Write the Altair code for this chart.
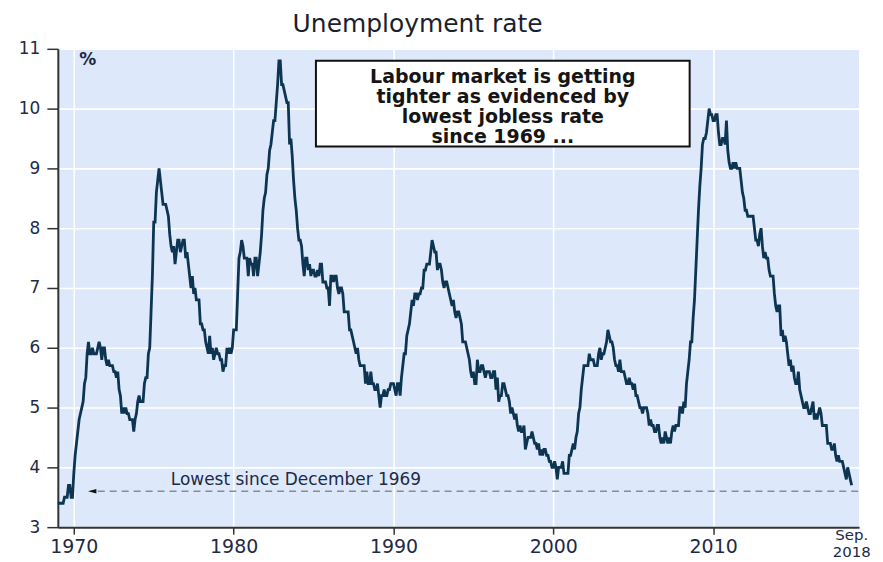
import altair as alt
import pandas as pd

# Monthly unemployment rate (%), Jan 1969 - Sep 2018
u_1969_1979 = [
    3.4, 3.4, 3.4, 3.4, 3.4, 3.5, 3.5, 3.5, 3.7, 3.7, 3.5, 3.5,
    3.9, 4.2, 4.4, 4.6, 4.8, 4.9, 5.0, 5.1, 5.4, 5.5, 5.9, 6.1,
    5.9, 5.9, 6.0, 5.9, 5.9, 5.9, 6.0, 6.1, 6.0, 5.8, 6.0, 6.0,
    5.8, 5.7, 5.8, 5.7, 5.7, 5.7, 5.6, 5.6, 5.5, 5.6, 5.3, 5.2,
    4.9, 5.0, 4.9, 5.0, 4.9, 4.9, 4.8, 4.8, 4.8, 4.6, 4.8, 4.9,
    5.1, 5.2, 5.1, 5.1, 5.1, 5.4, 5.5, 5.5, 5.9, 6.0, 6.6, 7.2,
    8.1, 8.1, 8.6, 8.8, 9.0, 8.8, 8.6, 8.4, 8.4, 8.4, 8.3, 8.2,
    7.9, 7.7, 7.6, 7.7, 7.4, 7.6, 7.8, 7.8, 7.6, 7.7, 7.8, 7.8,
    7.5, 7.6, 7.4, 7.2, 7.0, 7.2, 6.9, 7.0, 6.8, 6.8, 6.8, 6.4,
    6.4, 6.3, 6.3, 6.1, 6.0, 5.9, 6.2, 5.9, 6.0, 5.8, 5.9, 6.0,
    5.9, 5.9, 5.8, 5.8, 5.6, 5.7, 5.7, 6.0, 5.9, 6.0, 5.9, 6.0,
]
u_1980s = [
    6.3, 6.3, 6.3, 6.9, 7.5, 7.6, 7.8, 7.7, 7.5, 7.5, 7.5, 7.2,
    7.5, 7.4, 7.4, 7.2, 7.5, 7.5, 7.2, 7.4, 7.6, 7.9, 8.3, 8.5,
    8.6, 8.9, 9.0, 9.3, 9.4, 9.6, 9.8, 9.8, 10.1, 10.4, 10.8, 10.8,
    10.4, 10.4, 10.3, 10.2, 10.1, 10.1, 9.4, 9.5, 9.2, 8.8, 8.5, 8.3,
    8.0, 7.8, 7.8, 7.7, 7.4, 7.2, 7.5, 7.5, 7.3, 7.4, 7.2, 7.3,
    7.3, 7.2, 7.2, 7.3, 7.2, 7.4, 7.4, 7.1, 7.1, 7.1, 7.0, 7.0,
    6.7, 7.2, 7.2, 7.1, 7.2, 7.2, 7.0, 6.9, 7.0, 7.0, 6.9, 6.6,
    6.6, 6.6, 6.6, 6.3, 6.3, 6.2, 6.1, 6.0, 5.9, 6.0, 5.8, 5.7,
    5.7, 5.7, 5.7, 5.4, 5.6, 5.4, 5.4, 5.6, 5.4, 5.4, 5.3, 5.3,
    5.4, 5.2, 5.0, 5.2, 5.2, 5.3, 5.2, 5.2, 5.3, 5.3, 5.4, 5.4,
]
u_1990s = [
    5.4, 5.3, 5.2, 5.4, 5.4, 5.2, 5.5, 5.7, 5.9, 5.9, 6.2, 6.3,
    6.4, 6.6, 6.8, 6.7, 6.9, 6.9, 6.8, 6.9, 6.9, 7.0, 7.0, 7.3,
    7.3, 7.4, 7.4, 7.4, 7.6, 7.8, 7.7, 7.6, 7.6, 7.3, 7.4, 7.4,
    7.3, 7.1, 7.0, 7.1, 7.1, 7.0, 6.9, 6.8, 6.7, 6.8, 6.6, 6.5,
    6.6, 6.6, 6.5, 6.4, 6.1, 6.1, 6.1, 6.0, 5.9, 5.8, 5.6, 5.5,
    5.6, 5.4, 5.4, 5.8, 5.6, 5.6, 5.7, 5.7, 5.6, 5.5, 5.6, 5.6,
    5.6, 5.5, 5.5, 5.6, 5.6, 5.3, 5.5, 5.1, 5.2, 5.2, 5.4, 5.4,
    5.3, 5.2, 5.2, 5.1, 4.9, 5.0, 4.9, 4.8, 4.9, 4.7, 4.6, 4.7,
    4.6, 4.6, 4.7, 4.3, 4.4, 4.5, 4.5, 4.5, 4.6, 4.5, 4.4, 4.4,
    4.3, 4.4, 4.2, 4.3, 4.2, 4.3, 4.3, 4.2, 4.2, 4.1, 4.1, 4.0,
]
u_2000s = [
    4.0, 4.1, 4.0, 3.8, 4.0, 4.0, 4.0, 4.1, 3.9, 3.9, 3.9, 3.9,
    4.2, 4.2, 4.3, 4.4, 4.3, 4.5, 4.6, 4.9, 5.0, 5.3, 5.5, 5.7,
    5.7, 5.7, 5.7, 5.9, 5.8, 5.8, 5.8, 5.7, 5.7, 5.7, 5.9, 6.0,
    5.8, 5.9, 5.9, 6.0, 6.1, 6.3, 6.2, 6.1, 6.1, 6.0, 5.8, 5.7,
    5.7, 5.6, 5.8, 5.6, 5.6, 5.6, 5.5, 5.4, 5.4, 5.5, 5.4, 5.4,
    5.3, 5.4, 5.2, 5.2, 5.1, 5.0, 5.0, 4.9, 5.0, 5.0, 5.0, 4.9,
    4.7, 4.8, 4.7, 4.7, 4.6, 4.6, 4.7, 4.7, 4.5, 4.4, 4.5, 4.4,
    4.6, 4.5, 4.4, 4.5, 4.4, 4.6, 4.7, 4.6, 4.7, 4.7, 4.7, 5.0,
    5.0, 4.9, 5.1, 5.0, 5.4, 5.6, 5.8, 6.1, 6.1, 6.5, 6.8, 7.3,
    7.8, 8.3, 8.7, 9.0, 9.4, 9.5, 9.5, 9.6, 9.8, 10.0, 9.9, 9.9,
]
u_2010s = [
    9.8, 9.8, 9.9, 9.9, 9.6, 9.4, 9.4, 9.5, 9.5, 9.4, 9.8, 9.3,
    9.1, 9.0, 9.0, 9.1, 9.0, 9.1, 9.0, 9.0, 9.0, 8.8, 8.6, 8.5,
    8.3, 8.3, 8.2, 8.2, 8.2, 8.2, 8.2, 8.0, 7.8, 7.8, 7.7, 7.9,
    8.0, 7.7, 7.5, 7.6, 7.5, 7.5, 7.3, 7.2, 7.2, 7.2, 6.9, 6.7,
    6.6, 6.7, 6.7, 6.2, 6.3, 6.1, 6.2, 6.1, 5.9, 5.7, 5.8, 5.6,
    5.7, 5.5, 5.4, 5.4, 5.6, 5.3, 5.2, 5.1, 5.0, 5.0, 5.1, 5.0,
    4.9, 4.9, 5.0, 5.1, 4.8, 4.9, 4.8, 4.9, 5.0, 4.9, 4.7, 4.7,
    4.7, 4.7, 4.4, 4.4, 4.4, 4.3, 4.3, 4.4, 4.2, 4.1, 4.2, 4.1,
    4.1, 4.1, 4.0, 3.9, 3.8, 4.0, 3.9, 3.8, 3.7,
]

start_year = 1969
decade_ticks = [1970, 1980, 1990, 2000, 2010]
y_ticks = [3, 4, 5, 6, 7, 8, 9, 10, 11]
low_level = 3.6
low_label = "Lowest since December 1969"
box_lines = ["Labour market is getting", "tighter as evidenced by",
             "lowest jobless rate", "since 1969 ..."]
end_label = ["Sep.", "2018"]

rates = u_1969_1979 + u_1980s + u_1990s + u_2000s + u_2010s
times = [start_year + i / 12 for i in range(len(rates))]
df = pd.DataFrame({"t": times, "rate": rates})

FONT = "DejaVu Sans"
LABEL_COLOR = "#1e2a46"
X_DOMAIN = [1969.0, 2019.13]

x_scale = alt.Scale(domain=X_DOMAIN, nice=False, zero=False)
y_scale = alt.Scale(domain=[3, 11], nice=False, zero=False)

line = alt.Chart(df).mark_line(color="#0d3552", strokeWidth=2.8).encode(
    x=alt.X("t:Q", scale=x_scale,
            axis=alt.Axis(values=decade_ticks, format="d", title=None,
                          tickSize=7, labelFontSize=19, labelPadding=3,
                          grid=True)),
    y=alt.Y("rate:Q", scale=y_scale,
            axis=alt.Axis(values=y_ticks, format="d", title=None, tickSize=11,
                          labelFontSize=17, labelPadding=7, grid=True)),
)

low_df = pd.DataFrame({"level": [low_level]})
dash = alt.Chart(low_df).mark_rule(
    color="#8c8c8c", strokeDash=[7, 5], strokeWidth=1.6
).encode(x=alt.datum(1971.5), x2=alt.datum(X_DOMAIN[1]), y="level:Q")

arrow = alt.Chart(low_df).mark_point(
    shape="M -1 0 L 1 -0.55 L 1 0.55 Z", filled=True, color="#111111",
    size=70, opacity=1
).encode(x=alt.datum(1971.15), y="level:Q")

low_text = alt.Chart(low_df).mark_text(
    text=low_label, font=FONT, fontSize=17, color=LABEL_COLOR,
    baseline="middle", align="center"
).encode(x=alt.datum(1983.9), y=alt.datum(3.79))

box_df = pd.DataFrame({"k": [0]})
box = alt.Chart(box_df).mark_rect(
    fill="white", stroke="#111111", strokeWidth=2
).encode(x=alt.value(259), x2=alt.value(634), y=alt.value(12), y2=alt.value(98))

box_text = alt.Chart(box_df).mark_text(
    text=box_lines, font=FONT, fontSize=19, fontWeight="bold",
    color="#151515", align="center", baseline="alphabetic", lineHeight=20.3
).encode(x=alt.value(446.5), y=alt.value(34))

pct = alt.Chart(box_df).mark_text(
    text="%", font=FONT, fontSize=17, fontWeight="bold", color=LABEL_COLOR,
    align="center", baseline="middle"
).encode(x=alt.value(30), y=alt.value(11))

end_text = alt.Chart(box_df).mark_text(
    text=end_label, font=FONT, fontSize=15, color=LABEL_COLOR,
    align="center", baseline="top", lineHeight=17
).encode(x=alt.datum(2018.67), y=alt.value(481))

chart = alt.layer(line, dash, arrow, low_text, box, box_text, pct, end_text).properties(
    width=804, height=480,
    padding={"left": 50, "top": 40, "right": 16, "bottom": 34},
    autosize=alt.AutoSizeParams(type="none"),
    title=alt.Title("Unemployment rate", font=FONT, fontSize=25,
                    fontWeight="normal", color="#1c1f30", anchor="middle",
                    dx=-41, offset=3),
).configure_view(
    fill="#dde9fa", strokeWidth=0
).configure_axis(
    labelFont=FONT, labelColor=LABEL_COLOR, gridColor="white", gridWidth=1.6,
    domainColor="#333333", domainWidth=2, tickColor="#333333", tickWidth=1.5,
    gridOpacity=1
)

chart.save("out.html", embed_options={"renderer": "svg", "actions": False})
